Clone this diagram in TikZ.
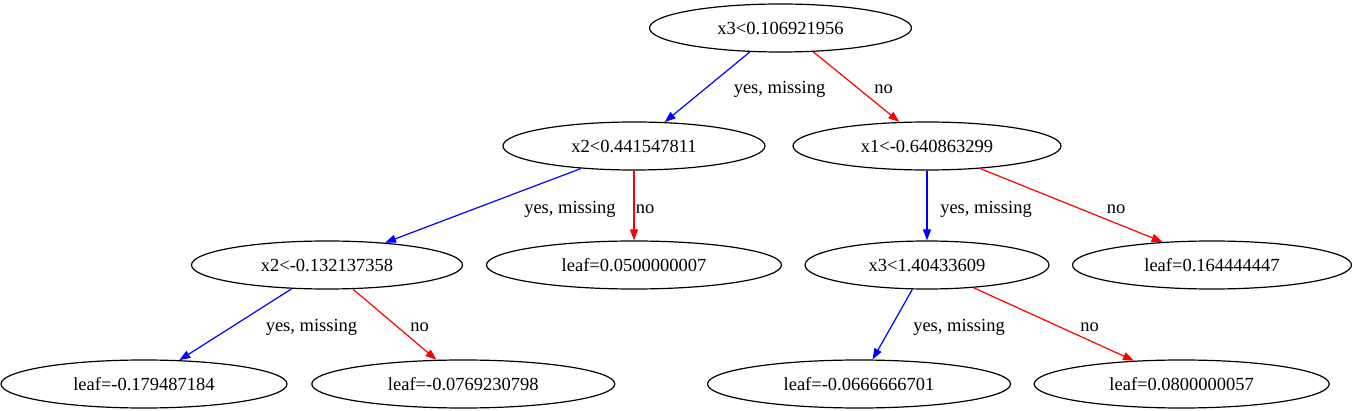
\documentclass[tikz,border=0pt]{standalone}
\usepackage{fontspec}
\setmainfont{Liberation Serif}
\usetikzlibrary{shapes.geometric, arrows.meta}

\begin{document}
\begin{tikzpicture}[x=1pt,y=-1pt,
  every node/.style={font=\fontsize{18.5}{22}\selectfont},
  split/.style={draw, ellipse, line width=1.2pt, inner sep=0pt, minimum height=48pt},
  yesedge/.style={draw=blue, line width=1.2pt, -{Triangle[length=11pt,width=8pt]}},
  noedge/.style={draw=red, line width=1.2pt, -{Triangle[length=11pt,width=8pt]}},
  lbl/.style={anchor=base}]
\useasboundingbox (0,0) rectangle (1355,411);
\node[split, minimum width=262pt] (root) at (780.5,28) {x3<0.106921956};
\node[split, minimum width=262pt] (n1) at (634,146) {x2<0.441547811};
\node[split, minimum width=268pt] (n2) at (927,146) {x1<-0.640863299};
\node[split, minimum width=271pt] (n3) at (327,265) {x2<-0.132137358};
\node[split, minimum width=295pt] (n4) at (634,265) {leaf=0.0500000007};
\node[split, minimum width=244pt] (n5) at (927,265) {x3<1.40433609};
\node[split, minimum width=279pt] (n6) at (1212,265) {leaf=0.164444447};
\node[split, minimum width=286pt] (n7) at (144,384) {leaf=-0.179487184};
\node[split, minimum width=303pt] (n8) at (463.3,384) {leaf=-0.0769230798};
\node[split, minimum width=303pt] (n9) at (859,384) {leaf=-0.0666666701};
\node[split, minimum width=295pt] (n10) at (1181.7,384) {leaf=0.0800000057};
\draw[yesedge] (root.218) -- (n1.38) node[lbl] at (779.5,93.3) {yes, missing};
\draw[noedge] (root.324) -- (n2.139) node[lbl] at (883.5,93.3) {no};
\draw[yesedge] (n1.203) -- (n3.21) node[lbl] at (570,213.3) {yes, missing};
\draw[noedge] (n1.south) -- (n4.north) node[lbl] at (645,213.3) {no};
\draw[yesedge] (n2.south) -- (n5.north) node[lbl] at (986,213.3) {yes, missing};
\draw[noedge] (n2.337) -- (n6.155) node[lbl] at (1116,213.3) {no};
\draw[yesedge] (n3.214) -- (n7.34) node[lbl] at (311.5,331.7) {yes, missing};
\draw[noedge] (n3.317) -- (n8.138) node[lbl] at (419.5,331.7) {no};
\draw[yesedge] (n5.239) -- (n9.61) node[lbl] at (959,331.7) {yes, missing};
\draw[noedge] (n5.334) -- (n10.154) node[lbl] at (1089.5,331.7) {no};
\end{tikzpicture}
\end{document}
